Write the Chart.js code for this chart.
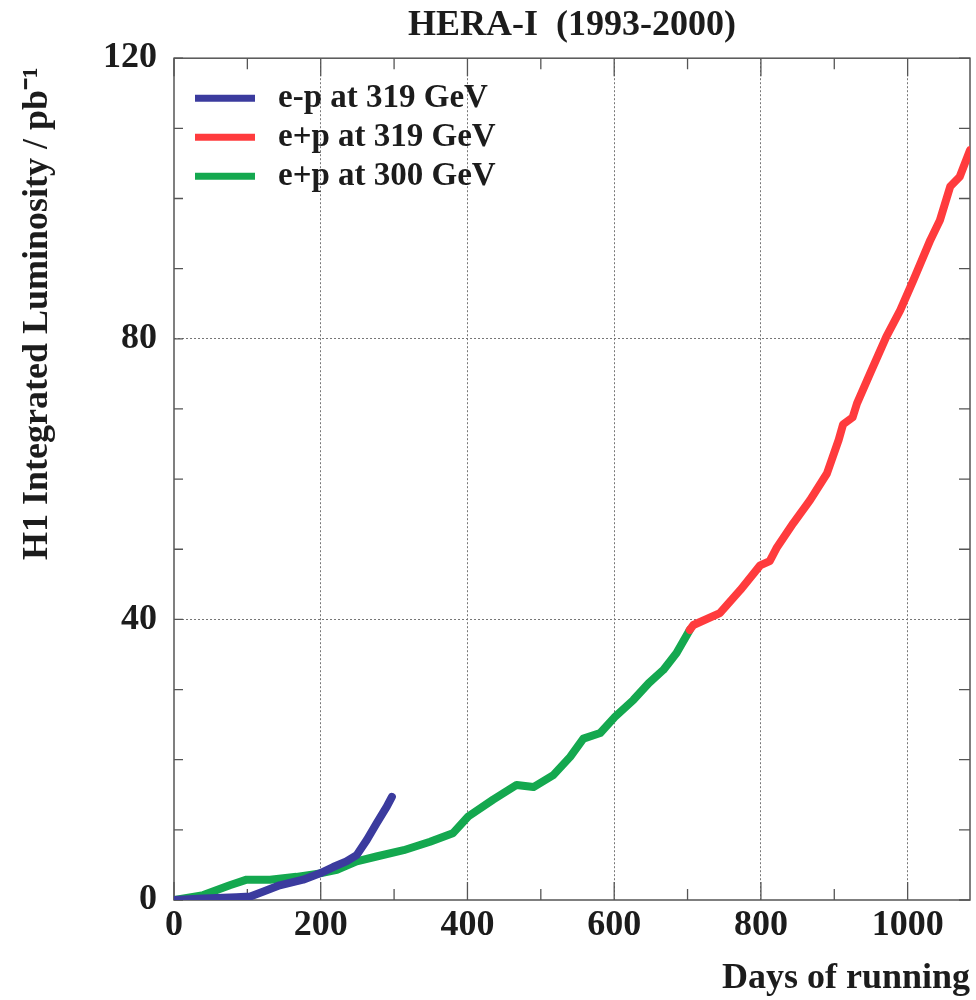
<!DOCTYPE html>
<html>
<head>
<meta charset="utf-8">
<title>HERA-I integrated luminosity</title>
<script src="https://cdn.jsdelivr.net/npm/chart.js@4.4.1/dist/chart.umd.min.js"></script>
<style>
  html, body { margin: 0; padding: 0; background: #fff; }
</style>
</head>
<body>
<canvas id="lumiChart" width="976" height="1000"></canvas>
<script>
// e-p at 319 GeV
const epDays = [0, 40, 85, 104, 122, 144, 176, 199, 217, 235, 249, 263, 276, 290, 297];
const epLumi = [0, 0.2, 0.4, 0.5, 1.2, 2.1, 2.9, 3.8, 4.7, 5.5, 6.4, 8.6, 10.9, 13.3, 14.7];

// e+p at 319 GeV
const ep319Days = [703, 708, 744, 772, 799, 812, 822, 844, 867, 890, 906, 912, 925, 931, 949, 971, 990, 1008, 1031, 1044, 1058, 1071, 1085];
const ep319Lumi = [38.5, 39.2, 40.9, 44.2, 47.7, 48.3, 50.3, 53.7, 57.0, 60.8, 65.6, 67.8, 68.8, 70.8, 75.1, 80.3, 84.1, 88.4, 94.1, 96.9, 101.7, 103.1, 106.9];

// e+p at 300 GeV
const ep300Days = [0, 40, 76, 99, 131, 167, 199, 222, 249, 276, 313, 349, 380, 401, 435, 467, 490, 517, 540, 558, 581, 601, 626, 647, 667, 685, 703];
const ep300Lumi = [0, 0.7, 2.1, 2.9, 2.9, 3.3, 3.8, 4.3, 5.5, 6.2, 7.1, 8.3, 9.5, 11.9, 14.3, 16.4, 16.1, 17.8, 20.4, 23.0, 23.8, 26.1, 28.5, 30.9, 32.8, 35.2, 38.5];

const seriesLabels = ["e-p at 319 GeV", "e+p at 319 GeV", "e+p at 300 GeV"];
const seriesColors = ["#3b3b9e", "#ff3b3d", "#14a84f"];

// tick positions (labels only on the major ones)
const xTicks = [0, 100, 200, 300, 400, 500, 600, 700, 800, 900, 1000];
const xLabels = [0, 200, 400, 600, 800, 1000];
const yTicks = [0, 10, 20, 30, 40, 50, 60, 70, 80, 90, 100, 110, 120];
const yLabels = [0, 40, 80, 120];

const xMax = 1085;
const yMax = 120;

const serif = '"Liberation Serif", "Times New Roman", serif';
const inkColor = "#1c1c1c";
const frameColor = "#555";

function toPoints(days, lumi) {
  return days.map((d, i) => ({ x: d, y: lumi[i] }));
}

// frame plus small inward ticks on all four sides
const frameTicks = {
  id: "frameTicks",
  beforeDatasetsDraw(chart) {
    const { ctx, chartArea: a, scales } = chart;
    ctx.save();
    ctx.strokeStyle = frameColor;
    ctx.lineWidth = 1.5;
    ctx.strokeRect(a.left, a.top, a.right - a.left, a.bottom - a.top);
    ctx.lineWidth = 1.3;
    ctx.beginPath();
    scales.x.ticks.forEach((t) => {
      const px = scales.x.getPixelForValue(t.value);
      const len = xLabels.includes(t.value) ? 18 : 11;
      ctx.moveTo(px, a.bottom);
      ctx.lineTo(px, a.bottom - len);
      ctx.moveTo(px, a.top);
      ctx.lineTo(px, a.top + len);
    });
    scales.y.ticks.forEach((t) => {
      const py = scales.y.getPixelForValue(t.value);
      ctx.moveTo(a.left, py);
      ctx.lineTo(a.left + 9, py);
      ctx.moveTo(a.right, py);
      ctx.lineTo(a.right - 11, py);
    });
    ctx.stroke();
    ctx.restore();
  }
};

// legend drawn inside the plot, top left
const lineLegend = {
  id: "lineLegend",
  afterDraw(chart) {
    const { ctx, chartArea: a } = chart;
    ctx.save();
    ctx.font = "bold 33px " + serif;
    ctx.textBaseline = "middle";
    chart.data.datasets.forEach((ds, i) => {
      const y = a.top + 40 + i * 39;
      ctx.strokeStyle = ds.borderColor;
      ctx.lineWidth = 7;
      ctx.beginPath();
      ctx.moveTo(a.left + 21, y);
      ctx.lineTo(a.left + 81, y);
      ctx.stroke();
      ctx.fillStyle = inkColor;
      ctx.fillText(ds.label, a.left + 104, y);
    });
    ctx.restore();
  }
};

const lineStyle = {
  borderWidth: 8,
  pointRadius: 0,
  tension: 0,
  fill: false,
  borderJoinStyle: "round",
  borderCapStyle: "round"
};

const gridColor = (labels, max) => (ctx) => {
  const v = ctx.tick ? ctx.tick.value : 0;
  return v > 0 && v < max && labels.includes(v) ? "#777" : "rgba(0,0,0,0)";
};

new Chart(document.getElementById("lumiChart"), {
  type: "line",
  data: {
    datasets: [
      { label: seriesLabels[0], data: toPoints(epDays, epLumi), borderColor: seriesColors[0], backgroundColor: seriesColors[0], ...lineStyle },
      { label: seriesLabels[1], data: toPoints(ep319Days, ep319Lumi), borderColor: seriesColors[1], backgroundColor: seriesColors[1], ...lineStyle },
      { label: seriesLabels[2], data: toPoints(ep300Days, ep300Lumi), borderColor: seriesColors[2], backgroundColor: seriesColors[2], ...lineStyle }
    ]
  },
  options: {
    responsive: false,
    animation: false,
    layout: { padding: { left: 0, right: 6, top: 0, bottom: 0 } },
    plugins: {
      legend: { display: false },
      tooltip: { enabled: false },
      title: {
        display: true,
        text: "HERA-I  (1993-2000)",
        fullSize: false,
        color: inkColor,
        font: { family: serif, size: 36, weight: "bold" },
        padding: { top: 4, bottom: 11 }
      }
    },
    scales: {
      x: {
        type: "linear",
        min: 0,
        max: xMax,
        afterBuildTicks: (scale) => { scale.ticks = xTicks.map((v) => ({ value: v })); },
        afterFit: (scale) => { scale.height = 100; },
        ticks: {
          autoSkip: false,
          maxRotation: 0,
          padding: 4,
          color: inkColor,
          font: { family: serif, size: 36, weight: "bold" },
          callback: (v) => (xLabels.includes(v) ? v : "")
        },
        grid: { drawTicks: false, lineWidth: 1, color: gridColor(xLabels, xMax) },
        border: { display: false, dash: [2, 2] },
        title: {
          display: true,
          text: "Days of running",
          align: "end",
          color: inkColor,
          font: { family: serif, size: 36, weight: "bold" },
          padding: { top: 0, bottom: 0 }
        }
      },
      y: {
        min: 0,
        max: yMax,
        afterBuildTicks: (scale) => { scale.ticks = yTicks.map((v) => ({ value: v })); },
        afterFit: (scale) => { scale.width = 174; },
        ticks: {
          autoSkip: false,
          padding: 17,
          color: inkColor,
          font: { family: serif, size: 36, weight: "bold" },
          callback: (v) => (yLabels.includes(v) ? v : "")
        },
        grid: { drawTicks: false, lineWidth: 1, color: gridColor(yLabels, yMax) },
        border: { display: false, dash: [2, 2] },
        title: {
          display: true,
          text: "H1 Integrated Luminosity / pb\u207B\u00B9 ",
          align: "end",
          color: inkColor,
          font: { family: serif, size: 36, weight: "bold" },
          padding: { top: 16, bottom: 0 }
        }
      }
    }
  },
  plugins: [frameTicks, lineLegend]
});
</script>
</body>
</html>
